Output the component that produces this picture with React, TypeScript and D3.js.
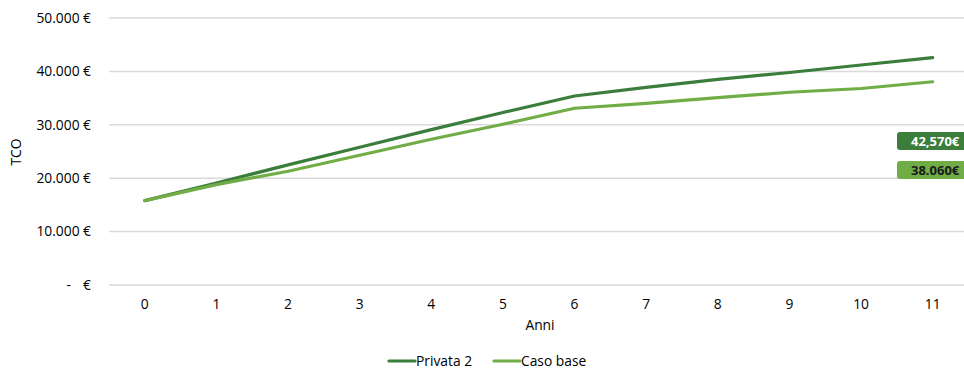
import React from "react";
import * as d3 from "d3";

const years = ["0", "1", "2", "3", "4", "5", "6", "7", "8", "9", "10", "11"];
const privata2 = [15800, 19100, 22500, 25800, 29100, 32300, 35400, 37000, 38500, 39800, 41200, 42570];
const casoBase = [15800, 18800, 21300, 24300, 27300, 30100, 33100, 34000, 35100, 36100, 36800, 38060];
const yTicks = [0, 10000, 20000, 30000, 40000, 50000];
const seriesNames = ["Privata 2", "Caso base"];
const badgeLabels = ["42,570€", "38.060€"];

const W = 964, H = 369;
const DARK = "#3B7D3A";
const LIGHT = "#70AD47";
const FONT = "'Open Sans', 'Noto Sans', sans-serif";
const FS = 13.8;

export default function App() {
  const x = d3.scaleBand<string>().domain(years).range([109, 968.5]);
  const y = d3.scaleLinear().domain([0, 50000]).range([285, 18]);
  const cx = (i: number) => (x(years[i]) as number) + x.bandwidth() / 2;
  const line = d3.line<number>().x((_, i) => cx(i)).y((d) => y(d));
  const fmt = (v: number) => (v === 0 ? null : d3.format(",")(v).replace(/,/g, "."));
  const series = [
    { name: seriesNames[0], data: privata2, color: DARK },
    { name: seriesNames[1], data: casoBase, color: LIGHT },
  ];
  return (
    <svg width={W} height={H} style={{ position: "absolute", left: 0, top: 0, fontFamily: FONT }}>
      <rect width={W} height={H} fill="#fff" />
      {yTicks.map((t) => (
        <g key={t}>
          <line x1={109} x2={W} y1={y(t)} y2={y(t)} stroke="#D9D9D9" strokeWidth={1.5} />
          {fmt(t) ? (
            <text x={91} y={y(t)} dy="0.35em" textAnchor="end" fontSize={FS} fill="#000">
              {fmt(t) + " €"}
            </text>
          ) : (
            <g>
              <text x={71} y={y(t)} dy="0.35em" textAnchor="end" fontSize={FS} fill="#000">-</text>
              <text x={91} y={y(t)} dy="0.35em" textAnchor="end" fontSize={FS} fill="#000">€</text>
            </g>
          )}
        </g>
      ))}
      <text transform={`translate(21,${152}) rotate(-90)`} textAnchor="middle" fontSize={FS} fill="#000">TCO</text>
      {years.map((yr, i) => (
        <text key={yr} x={cx(i)} y={309} textAnchor="middle" fontSize={FS} fill="#000">{yr}</text>
      ))}
      <text x={540} y={330} textAnchor="middle" fontSize={FS} fill="#000">Anni</text>
      {series.map((s) => (
        <path key={s.name} d={line(s.data) || ""} fill="none" stroke={s.color} strokeWidth={3.2}
          strokeLinejoin="round" strokeLinecap="round" />
      ))}
      {series.map((s, i) => {
        const by = i === 0 ? 132 : 161;
        return (
          <g key={"b" + i}>
            <rect x={897} y={by} width={72} height={18} rx={3} fill={s.color} />
            <text x={911} y={by + 9} dy="0.36em" textAnchor="start" fontSize={13} fontWeight="bold"
              fill={i === 0 ? "#fff" : "#1a1a1a"}>{badgeLabels[i]}</text>
          </g>
        );
      })}
      {series.map((s, i) => {
        const lx = i === 0 ? 389 : 494;
        return (
          <g key={"l" + i}>
            <line x1={lx} x2={lx + 26} y1={361} y2={361} stroke={s.color} strokeWidth={3.2} strokeLinecap="round" />
            <text x={lx + 27} y={361} dy="0.35em" fontSize={FS} fill="#000">{s.name}</text>
          </g>
        );
      })}
    </svg>
  );
}
